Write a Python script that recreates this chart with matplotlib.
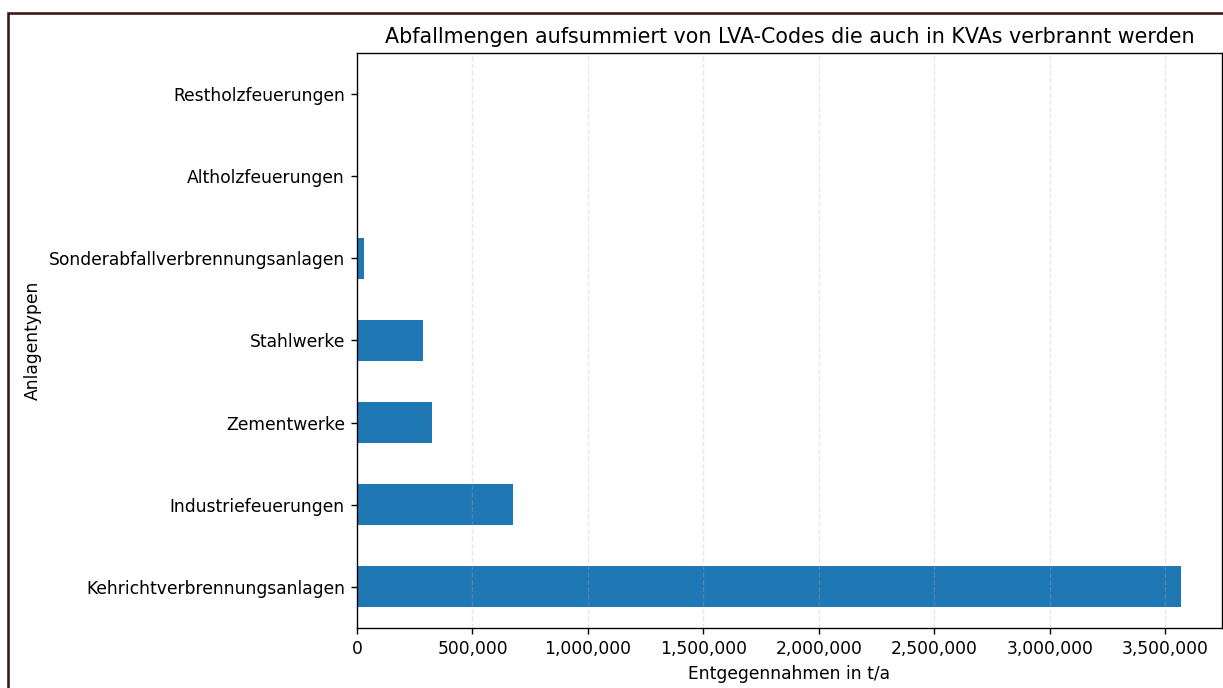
import matplotlib
matplotlib.use("Agg")
import matplotlib.pyplot as plt
from matplotlib.patches import Rectangle
from matplotlib.ticker import FuncFormatter

categories = ["Kehrichtverbrennungsanlagen", "Industriefeuerungen", "Zementwerke",
              "Stahlwerke", "Sonderabfallverbrennungsanlagen", "Altholzfeuerungen",
              "Restholzfeuerungen"]
values = [3567000, 676000, 326000, 286000, 30000, 0, 0]

W, H = 1223, 688
DPI = 123.5
fig = plt.figure(figsize=(W / DPI, H / DPI), dpi=DPI)

# outer frame (screenshot border, extends beyond the crop)
fig.patches.append(Rectangle((8 / W, -0.1), 1.2, 1 - 13 / H + 0.1, transform=fig.transFigure,
                             fill=False, edgecolor="#3d1414", linewidth=1.5))

ax = fig.add_axes([357 / W, 1 - 628 / H, (1222 - 357) / W, (628 - 53) / H])
pos = range(len(categories))
ax.barh(pos, values, height=0.5, color="#1f77b4")
ax.set_yticks(list(pos))
ax.set_yticklabels(categories)
ax.set_ylim(-0.5, len(categories) - 0.5)
ax.set_xlim(0, max(values) * 1.05)
ax.xaxis.set_major_formatter(FuncFormatter(lambda v, p: f"{int(v):,}"))
ax.grid(axis="x", linestyle="--", alpha=0.3)
for s in ax.spines.values():
    s.set_zorder(4)
ax.set_title("Abfallmengen aufsummiert von LVA-Codes die auch in KVAs verbrannt werden")
ax.set_xlabel("Entgegennahmen in t/a")
ax.set_ylabel("Anlagentypen")

fig.savefig("out.png", dpi=DPI)
